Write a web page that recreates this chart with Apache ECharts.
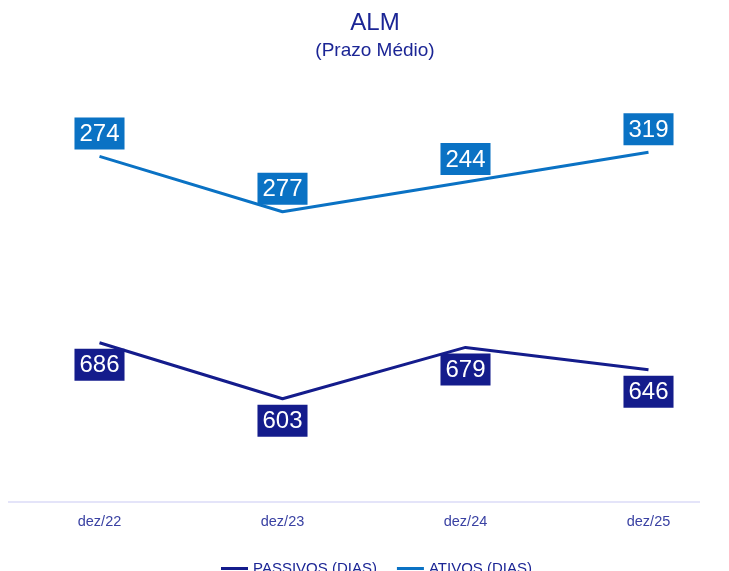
<!DOCTYPE html>
<html>
<head>
<meta charset="utf-8">
<script src="https://cdn.jsdelivr.net/npm/echarts@6/dist/echarts.min.js"></script>
<style>
  html, body { margin: 0; padding: 0; background: #fff; }
  #main { width: 729px; height: 571px; }
</style>
</head>
<body>
<div id="main"></div>
<script>
// categorias e valores
const categorias = ['dez/22', 'dez/23', 'dez/24', 'dez/25'];
const passivos = [686, 603, 679, 646];
// a linha de ativos no original não segue os rótulos: posição
const ativosLinha = [962, 880, 924, 968];
const ativosRotulo = [274, 277, 244, 319];

const corPassivos = '#141C8C';
const corAtivos = '#0A72C4';
const fonte = '"Liberation Sans", Arial, sans-serif';

let myChart = echarts.init(document.getElementById('main'));
myChart.setOption({
  animation: false,
  title: {
    text: 'ALM',
    subtext: '(Prazo Médio)',
    left: 370,
    textAlign: 'center',
    top: 6,
    itemGap: 6,
    textStyle: { fontFamily: fonte, fontSize: 24, fontWeight: 'normal', color: '#1B2595' },
    subtextStyle: { fontFamily: fonte, fontSize: 19, color: '#1B2595' }
  },
  legend: {
    bottom: -10,
    left: 216,
    icon: 'rect',
    itemWidth: 27,
    itemHeight: 3,
    itemGap: 20,
    textStyle: { fontFamily: fonte, fontSize: 15, color: '#1B2595' },
    data: ['PASSIVOS (DIAS)', 'ATIVOS (DIAS)']
  },
  grid: { left: 8, width: 732, top: 97, bottom: 69, outerBoundsMode: 'none' },
  xAxis: {
    type: 'category',
    data: categorias,
    boundaryGap: true,
    axisLine: { show: false },
    axisTick: { show: false },
    axisLabel: { margin: 12, fontFamily: fonte, fontSize: 14.5, color: '#3A42A3' }
  },
  yAxis: {
    type: 'value',
    min: 450,
    max: 1050,
    show: false,
    splitLine: { show: false }
  },
  graphic: [{
    type: 'line',
    shape: { x1: 8, y1: 502, x2: 700, y2: 502 },
    style: { stroke: '#C9C9F3', lineWidth: 1 }
  }],
  series: [
    {
      name: 'PASSIVOS (DIAS)',
      type: 'line',
      data: passivos,
      symbol: 'circle',
      symbolSize: 0,
      showSymbol: true,
      lineStyle: { width: 3, color: corPassivos },
      itemStyle: { color: corPassivos },
      label: {
        show: true,
        position: 'bottom',
        distance: 6,
        fontFamily: fonte,
        fontSize: 24,
        color: '#fff',
        backgroundColor: corPassivos,
        padding: [5, 5, 3, 5]
      }
    },
    {
      name: 'ATIVOS (DIAS)',
      type: 'line',
      data: ativosLinha,
      symbol: 'circle',
      symbolSize: 0,
      showSymbol: true,
      lineStyle: { width: 3, color: corAtivos },
      itemStyle: { color: corAtivos },
      label: {
        show: true,
        position: 'top',
        distance: 7,
        fontFamily: fonte,
        fontSize: 24,
        color: '#fff',
        backgroundColor: corAtivos,
        padding: [5, 5, 3, 5],
        formatter: p => ativosRotulo[p.dataIndex]
      }
    }
  ]
});
</script>
</body>
</html>
